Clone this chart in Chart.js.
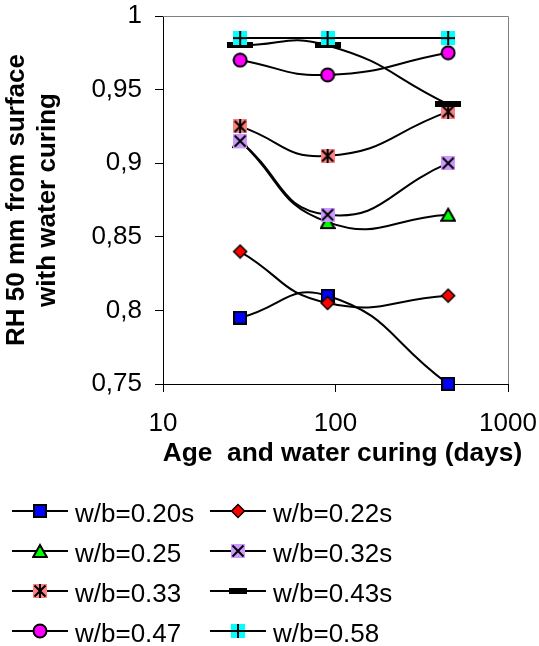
<!DOCTYPE html>
<html><head><meta charset="utf-8">
<script src="https://cdn.jsdelivr.net/npm/chart.js@4/dist/chart.umd.min.js"></script>
<style>html,body{margin:0;padding:0;background:#fff}#wrap{width:539px;height:646px}</style>
</head><body><div id="wrap"><canvas id="c" width="539" height="646"></canvas></div>
<script>
// ---- data ----
const ages = [28, 90, 450];
const seriesNames = ['w/b=0.20s','w/b=0.22s','w/b=0.25','w/b=0.32s','w/b=0.33','w/b=0.43s','w/b=0.47','w/b=0.58'];
const rh020s = [0.795, 0.81, 0.75];
const rh022s = [0.84, 0.805, 0.81];
const rh025  = [0.915, 0.86, 0.865];
const rh032s = [0.915, 0.865, 0.90];
const rh033  = [0.925, 0.905, 0.935];
const rh043s = [0.98, 0.98, 0.94];
const rh047  = [0.97, 0.96, 0.975];
const rh058  = [0.985, 0.985, 0.985];
const xTickValues = [10, 100, 1000];
const xTickLabels = ['10', '100', '1000'];
const yTickValues = [0.75, 0.8, 0.85, 0.9, 0.95, 1];
const yTickLabels = ['0,75', '0,8', '0,85', '0,9', '0,95', '1'];
const xTitle = 'Age  and water curing (days)';
const yTitle = ['RH 50 mm from surface', 'with water curing'];
const seriesValues = [rh020s, rh022s, rh025, rh032s, rh033, rh043s, rh047, rh058];

// ---- markers ----
function mk(w, h, draw) { const c = document.createElement('canvas'); c.width = w; c.height = h; const g = c.getContext('2d'); draw(g, w, h); return c; }
function lines(g, segs) { g.strokeStyle = '#000'; g.lineWidth = 2; g.beginPath(); segs.forEach(s => { g.moveTo(s[0], s[1]); g.lineTo(s[2], s[3]); }); g.stroke(); }
const mSquare = mk(14, 14, g => { g.fillStyle = '#0000FF'; g.fillRect(1, 1, 12, 12); g.lineWidth = 2; g.strokeStyle = '#000'; g.strokeRect(1, 1, 12, 12); });
const mDiamond = mk(16, 16, g => { g.beginPath(); g.moveTo(8, 1.5); g.lineTo(14.5, 8); g.lineTo(8, 14.5); g.lineTo(1.5, 8); g.closePath(); g.fillStyle = '#FF0000'; g.fill(); g.lineWidth = 1.5; g.strokeStyle = '#000'; g.stroke(); });
const mTri = mk(16, 16, g => { g.beginPath(); g.moveTo(8, 2); g.lineTo(14.8, 14); g.lineTo(1.2, 14); g.closePath(); g.fillStyle = '#00FF00'; g.fill(); g.lineWidth = 2; g.strokeStyle = '#000'; g.stroke(); });
const mSqX = mk(14, 14, g => { g.fillStyle = '#CC99FF'; g.fillRect(0, 0, 14, 14); lines(g, [[1.5, 1.5, 12.5, 12.5], [12.5, 1.5, 1.5, 12.5]]); });
const mSqStar = mk(14, 14, g => { g.fillStyle = '#FF8080'; g.fillRect(0, 0, 14, 14); lines(g, [[1.5, 1.5, 12.5, 12.5], [12.5, 1.5, 1.5, 12.5], [7, 0, 7, 14]]); });
const mDash = mk(26, 6, g => { g.fillStyle = '#000'; g.fillRect(0, 0, 26, 6); });
const mDashLeg = mk(18, 6, g => { g.fillStyle = '#000'; g.fillRect(0, 0, 18, 6); });
const mCircle = mk(16, 16, g => { g.beginPath(); g.arc(8, 8, 6.5, 0, Math.PI * 2); g.fillStyle = '#FF00FF'; g.fill(); g.lineWidth = 2; g.strokeStyle = '#000'; g.stroke(); });
const mSqPlus = mk(14, 14, g => { g.fillStyle = '#00FFFF'; g.fillRect(0, 0, 14, 14); lines(g, [[7, 0, 7, 14], [0, 7, 14, 7]]); });
const markers = [mSquare, mDiamond, mTri, mSqX, mSqStar, mDash, mCircle, mSqPlus];
const legendMarkers = [mSquare, mDiamond, mTri, mSqX, mSqStar, mDashLeg, mCircle, mSqPlus];

const FAM = "'Liberation Sans', Arial, sans-serif";
Chart.defaults.font.family = FAM;
Chart.defaults.color = '#000';

const datasets = seriesNames.map((name, i) => ({
  label: name,
  data: ages.map((a, j) => ({ x: a, y: seriesValues[i][j] })),
  borderColor: '#000',
  borderWidth: 2,
  backgroundColor: '#000',
  pointStyle: markers[i],
  pointRadius: 7,
  tension: 0.5,
  fill: false,
  clip: false,
  order: seriesNames.length - i
}));

const boxPlugin = {
  id: 'box',
  beforeDatasetsDraw(chart) {
    const a = chart.chartArea, ctx = chart.ctx;
    ctx.save();
    ctx.strokeStyle = '#808080'; ctx.lineWidth = 1;
    ctx.beginPath();
    ctx.moveTo(a.left, a.top + 0.5); ctx.lineTo(a.right + 0.5, a.top + 0.5); ctx.lineTo(a.right + 0.5, a.bottom);
    ctx.stroke();
    ctx.restore();
  }
};

// x-axis title (slightly right of the plot centre, as in the original) and the 2-column legend
const legendPlugin = {
  id: 'gridLegend',
  afterDraw(chart) {
    const ctx = chart.ctx;
    const a = chart.chartArea;
    ctx.save();
    ctx.fillStyle = '#000';
    ctx.font = 'bold 26.3px ' + FAM;
    ctx.textAlign = 'center';
    ctx.textBaseline = 'middle';
    ctx.fillText(xTitle, (a.left + a.right) / 2 + 7, a.bottom + 70);

    ctx.font = '26px ' + FAM;
    ctx.textBaseline = 'alphabetic';
    ctx.textAlign = 'left';
    seriesNames.forEach((name, i) => {
      const col = i % 2, row = Math.floor(i / 2);
      const x0 = col ? 210 : 12;
      const cy = 511 + row * 40;
      ctx.strokeStyle = '#000'; ctx.lineWidth = 2;
      ctx.beginPath(); ctx.moveTo(x0, cy); ctx.lineTo(x0 + 56, cy); ctx.stroke();
      const m = legendMarkers[i];
      ctx.drawImage(m, Math.round(x0 + 28 - m.width / 2), Math.round(cy - m.height / 2));
      ctx.fillText(name, x0 + 63, cy + 11);
    });
    ctx.restore();
  }
};

const X_H = 92;
new Chart(document.getElementById('c'), {
  type: 'line',
  data: { datasets },
  plugins: [boxPlugin, legendPlugin],
  options: {
    responsive: false,
    animation: false,
    devicePixelRatio: 1,
    layout: { padding: { left: 0, top: 16, right: 31, bottom: 646 - 384 - X_H } },
    plugins: { legend: { display: false }, tooltip: { enabled: false } },
    scales: {
      x: {
        type: 'logarithmic', min: 10, max: 1000,
        afterBuildTicks: s => { s.ticks = xTickValues.map(v => ({ value: v, major: false })); },
        afterFit: s => { s.height = X_H; s.paddingLeft = 0; s.paddingRight = 0; },
        ticks: { autoSkip: false, maxRotation: 0, padding: 16, font: { size: 26 }, callback: (v, i) => xTickLabels[i] },
        grid: { drawOnChartArea: false, drawTicks: true, tickLength: 8, color: '#000' },
        border: { display: true, color: '#000', width: 1 },
        title: { display: false, text: xTitle }
      },
      y: {
        type: 'linear', min: 0.75, max: 1,
        afterBuildTicks: s => { s.ticks = yTickValues.map(v => ({ value: v })); },
        afterFit: s => { s.width = 163; s.paddingTop = 0; s.paddingBottom = 0; },
        ticks: { padding: 13, font: { size: 26 }, callback: (v, i) => yTickLabels[i] },
        grid: { drawOnChartArea: false, drawTicks: true, tickLength: 8, color: '#000' },
        border: { display: true, color: '#000', width: 1 },
        title: { display: true, text: yTitle, font: { size: 26, weight: 'bold', lineHeight: 1.19 }, padding: { top: 1.5, bottom: 0 } }
      }
    }
  }
});
</script></body></html>
